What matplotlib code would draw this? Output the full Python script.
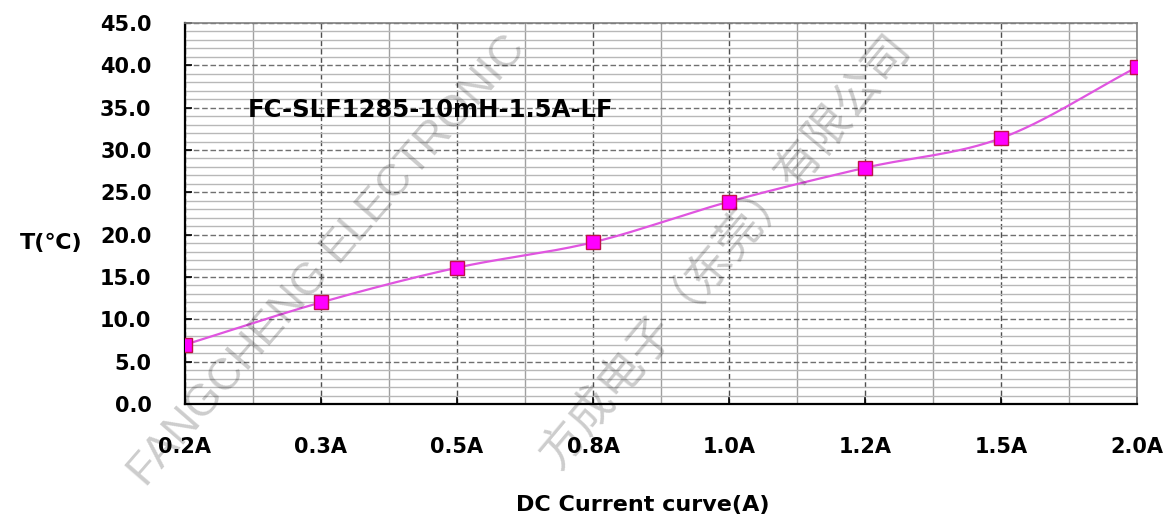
import matplotlib
matplotlib.use('Agg')
import matplotlib.pyplot as plt
from matplotlib.ticker import MultipleLocator, FixedLocator
import numpy as np

# データ
currents = ['0.2A', '0.3A', '0.5A', '0.8A', '1.0A', '1.2A', '1.5A', '2.0A']
temps = [7.0, 12.0, 16.1, 19.1, 23.9, 27.9, 31.4, 39.8]
model_name = 'FC-SLF1285-10mH-1.5A-LF'

plt.rcParams['font.family'] = ['DejaVu Sans', 'Noto Sans CJK SC']


# Excel風のなめらかな線 (Catmull-Rom)
def smooth_curve(xs, ys, n=30):
    xs = np.asarray(xs, float)
    ys = np.asarray(ys, float)
    px = np.concatenate([[2 * xs[0] - xs[1]], xs, [2 * xs[-1] - xs[-2]]])
    py = np.concatenate([[2 * ys[0] - ys[1]], ys, [2 * ys[-1] - ys[-2]]])
    out_x, out_y = [], []
    t = np.linspace(0, 1, n)
    for i in range(1, len(px) - 2):
        for p, out in ((px, out_x), (py, out_y)):
            p0, p1, p2, p3 = p[i - 1], p[i], p[i + 1], p[i + 2]
            seg = 0.5 * ((2 * p1) + (-p0 + p2) * t
                         + (2 * p0 - 5 * p1 + 4 * p2 - p3) * t ** 2
                         + (-p0 + 3 * p1 - 3 * p2 + p3) * t ** 3)
            out.extend(seg)
    return np.array(out_x), np.array(out_y)


fig = plt.figure(figsize=(11.7, 5.22), dpi=100)
ax = fig.add_axes([0.158, 0.226, 0.814, 0.730])

x = np.arange(len(currents))
sx, sy = smooth_curve(x, temps)
ax.plot(sx, sy, color='#E055E0', linewidth=1.6, zorder=4)
ax.plot(x, temps, linestyle='none', marker='s', markersize=10,
        markerfacecolor='#FF00FF', markeredgecolor='#C0104A',
        markeredgewidth=1.0, zorder=5)

ax.set_xlim(0, len(currents) - 1)
ax.set_ylim(0, 45)

# グリッド
ax.yaxis.set_major_locator(MultipleLocator(5))
ax.yaxis.set_minor_locator(MultipleLocator(1))
ax.xaxis.set_major_locator(FixedLocator(x))
ax.xaxis.set_minor_locator(FixedLocator(x[:-1] + 0.5))
ax.grid(which='minor', axis='y', color='#b8b8b8', linewidth=1.0, linestyle='-', zorder=1)
ax.grid(which='major', axis='y', color='#707070', linewidth=1.0, linestyle=(0, (4, 2)), zorder=2)
ax.grid(which='minor', axis='x', color='#a0a0a0', linewidth=1.0, linestyle='-', zorder=1)
ax.grid(which='major', axis='x', color='#505050', linewidth=1.0, linestyle=(0, (4, 2)), zorder=2)
ax.set_axisbelow(True)

ax.set_xticks(x)
ax.set_xticklabels(currents)
ax.set_yticks(np.arange(0, 46, 5))
ax.set_yticklabels([f'{v:.1f}' for v in np.arange(0, 46, 5)])
ax.tick_params(axis='both', which='major', direction='in', length=5, width=1.2,
               labelsize=15)
ax.tick_params(axis='both', which='minor', length=0)
ax.tick_params(axis='x', pad=24)
ax.tick_params(axis='y', pad=24)
for lab in ax.get_xticklabels() + ax.get_yticklabels():
    lab.set_fontweight('bold')

for side in ['left', 'bottom']:
    ax.spines[side].set_color('black')
    ax.spines[side].set_linewidth(1.6)
for side in ['top', 'right']:
    ax.spines[side].set_color('#808080')
    ax.spines[side].set_linewidth(1.2)

ax.text(0.46, 33.9, model_name, fontsize=17.5, fontweight='bold', zorder=6)

fig.text(0.044, 0.535, 'T(℃)', fontsize=16, fontweight='bold', ha='center', va='center')
fig.text(0.549, 0.032, 'DC Current curve(A)', fontsize=16, fontweight='bold',
         ha='center', va='center')

# 透かし
fig.text(0.28, 0.50, 'FANGCHENG ELECTRONIC', fontsize=32, color='#000000', alpha=0.2,
         rotation=49, ha='center', va='center', zorder=10,
         family=['Liberation Sans', 'DejaVu Sans'])
fig.text(0.62, 0.52, '方成电子（东莞）有限公司', fontsize=33, color='#000000', alpha=0.2,
         rotation=50, ha='center', va='center', zorder=10,
         family=['Noto Sans CJK SC', 'DejaVu Sans'])

plt.savefig('out.png', dpi=100)
